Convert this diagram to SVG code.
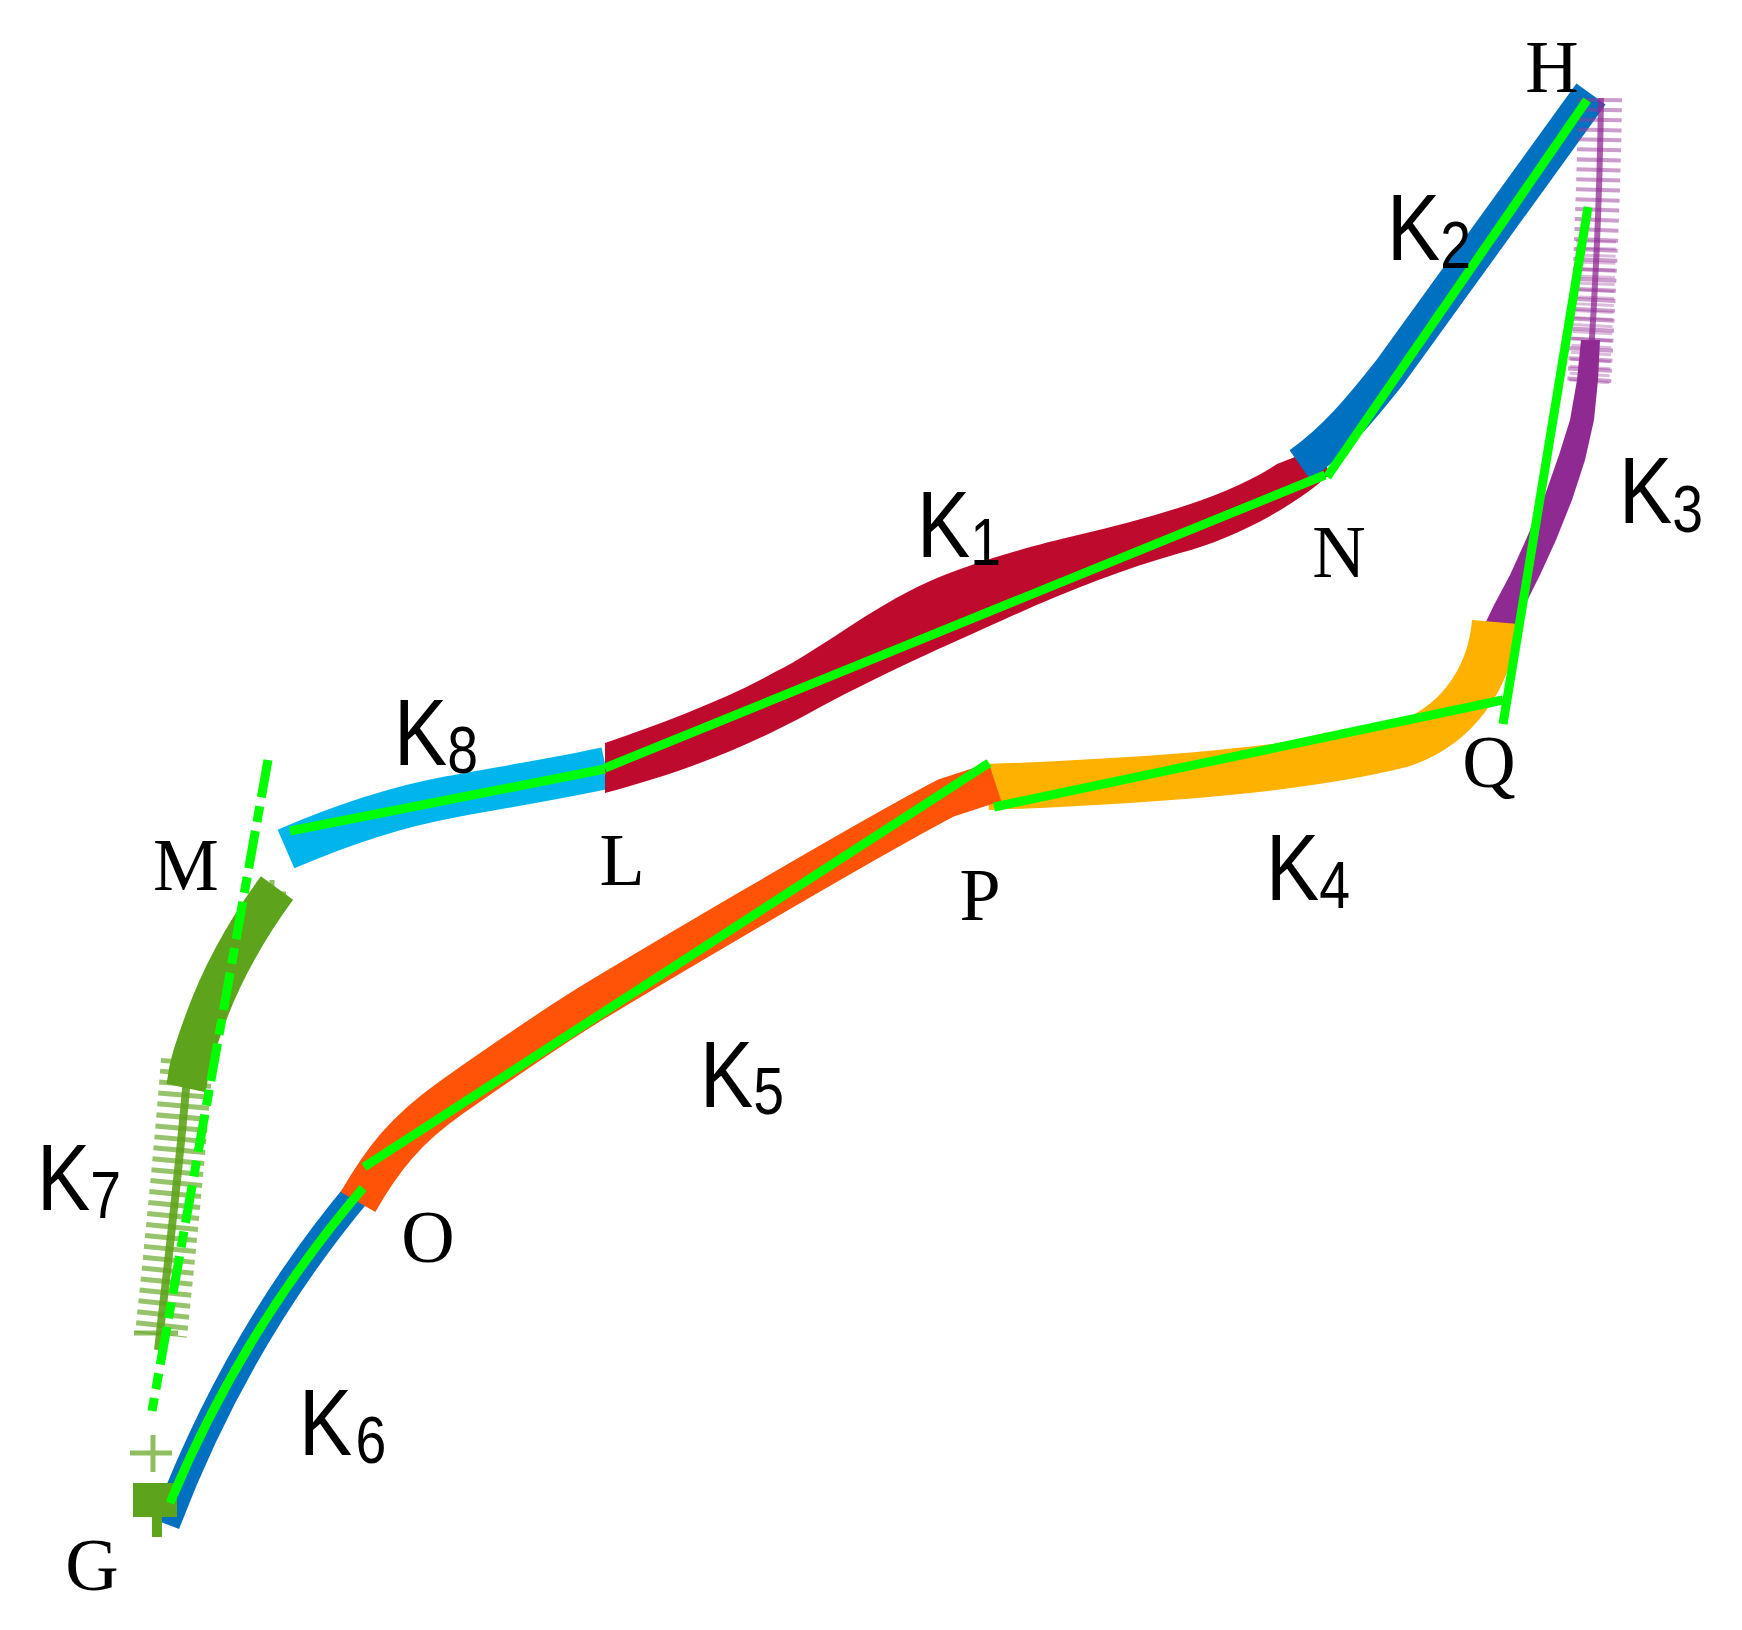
<svg xmlns="http://www.w3.org/2000/svg" width="1742" height="1630" viewBox="0 0 1742 1630">
<style>
.band{fill:none;stroke-linecap:butt;stroke-linejoin:round}
.gl{fill:none;stroke:#00FF00;stroke-width:9;stroke-linecap:butt;stroke-linejoin:round}
.ser{font-family:"Liberation Serif","Times New Roman",serif;font-size:74px;fill:#000;text-anchor:middle}
.sans{font-family:"Liberation Sans",Arial,sans-serif;font-size:95px;fill:#000}
.sub{font-size:66px}
</style>
<rect width="1742" height="1630" fill="#fff"/>
<g id="connectors">
  <!-- K8 cyan -->
  <path class="band" d="M286,849 C330,830 390,808 450,797 S560,778 606,768" stroke="#00B5EC" stroke-width="42"/>
  <!-- K1 red -->
  <path d="M605,743 C660,724 725,700 775,672 C820,650 870,608 928,582 C965,565 1030,546 1078,535 C1150,518 1230,496 1277,464 L1318,448 L1330,474 C1290,510 1230,540 1180,553 C1120,570 1060,594 1003,620 C950,644 880,674 804,716 C740,750 680,773 605,793 Z" fill="#BE0A2C"/>
  <!-- K2 blue -->
  <path class="band" d="M1300,465 C1335,440 1360,410 1390,372 L1591,94" stroke="#0070C0" stroke-width="36"/>
  <!-- K3 purple -->
  <path class="band" d="M1600,98 C1599,180 1595,280 1589,385" stroke="#9A3A9C" stroke-opacity="0.5" stroke-width="44" stroke-dasharray="4 6"/>
  <path class="band" d="M1596,240 C1595,290 1592,340 1589,385" stroke="#9A3A9C" stroke-opacity="0.35" stroke-width="40" stroke-dasharray="3 4"/>
  <path class="band" d="M1601,98 C1600,180 1596,280 1590,370" stroke="#8F2A92" stroke-opacity="0.75" stroke-width="6"/>
  <path d="M1581,340 L1577,380 L1570,420 L1559,455 L1545,495 L1528,535 L1510,575 L1494,605 L1482,630 L1512,632 L1525,605 L1540,575 L1556,540 L1572,500 L1585,460 L1594,420 L1598,380 L1600,340 Z" fill="#8F2A92"/>
  <!-- K4 orange -->
  <path class="band" d="M988,787 C1150,781 1300,770 1400,745 C1455,728 1490,680 1495,622" stroke="#FFB100" stroke-width="46"/>
  <!-- K6 blue -->
  <path class="band" d="M166,1524 Q238,1335 360,1190" stroke="#0070C0" stroke-width="28"/>
  <!-- K5 orange-red -->
  <path class="band" d="M358,1202 C382,1160 405,1130 452,1097 S560,1022 600,998 S860,843 946,798 L995,782" stroke="#FF5307" stroke-width="40"/>
  <!-- K7 olive -->
  <path class="band" d="M277,888 C252,922 225,965 205,1020 S190,1070 186,1088" stroke="#5EA31C" stroke-width="40"/>
  <path class="band" d="M187,1060 C180,1150 170,1250 161,1335" stroke="#5EA31C" stroke-opacity="0.65" stroke-width="52" stroke-dasharray="5 6"/>
  <path class="band" d="M190,1040 C182,1150 168,1260 158,1350" stroke="#5EA31C" stroke-opacity="0.9" stroke-width="8"/>
  <g stroke="#5EA31C" stroke-width="5" stroke-opacity="0.7" fill="none">
    <path d="M134,1333 H178 M130,1453 H172 M153,1435 V1472"/>
    <path d="M258,894 H286 M272,880 V906"/>
  </g>
  <path d="M133,1483 H177 V1517 H162 V1537 H152 V1517 H133 Z" fill="#5EA31C"/>
  <!-- green fitted lines -->
  <path class="gl" d="M290,831 L605,769"/>
  <path class="gl" d="M605,768 L1325,475"/>
  <path class="gl" d="M1327,477 L1587,100"/>
  <path class="gl" d="M1588,207 L1503,724"/>
  <path class="gl" d="M994,807 L1503,700"/>
  <path class="gl" d="M364,1167 L989,763"/>
  <path class="gl" d="M170,1503 Q242,1330 363,1188"/>
  <path class="gl" d="M268,760 L152,1411" stroke-width="8" stroke-dasharray="38 9 16 9"/>
</g>
<g id="segment-labels">
  <text class="sans" transform="translate(917,557) scale(0.84,1)">K<tspan class="sub" dy="8">1</tspan></text>
  <text class="sans" transform="translate(1387,260) scale(0.84,1)">K<tspan class="sub" dy="8">2</tspan></text>
  <text class="sans" transform="translate(1619,523) scale(0.84,1)">K<tspan class="sub" dy="9">3</tspan></text>
  <text class="sans" transform="translate(1266,900) scale(0.84,1)">K<tspan class="sub" dy="8">4</tspan></text>
  <text class="sans" transform="translate(700,1107) scale(0.84,1)">K<tspan class="sub" dy="7">5</tspan></text>
  <text class="sans" transform="translate(299,1455) scale(0.84,1)">K<tspan class="sub" dx="4" dy="8">6</tspan></text>
  <text class="sans" transform="translate(37,1210) scale(0.84,1)">K<tspan class="sub" dy="8">7</tspan></text>
  <text class="sans" transform="translate(394,765) scale(0.84,1)">K<tspan class="sub" dy="8">8</tspan></text>
</g>
<g id="node-H"><text class="ser" x="1552" y="92">H</text></g>
<g id="node-N"><text class="ser" x="1339" y="577">N</text></g>
<g id="node-Q"><text class="ser" x="1489" y="787">Q</text></g>
<g id="node-P"><text class="ser" x="980" y="920">P</text></g>
<g id="node-L"><text class="ser" x="622" y="885">L</text></g>
<g id="node-M"><text class="ser" x="186" y="890">M</text></g>
<g id="node-O"><text class="ser" x="428" y="1262">O</text></g>
<g id="node-G"><text class="ser" x="92" y="1590">G</text></g>
</svg>
